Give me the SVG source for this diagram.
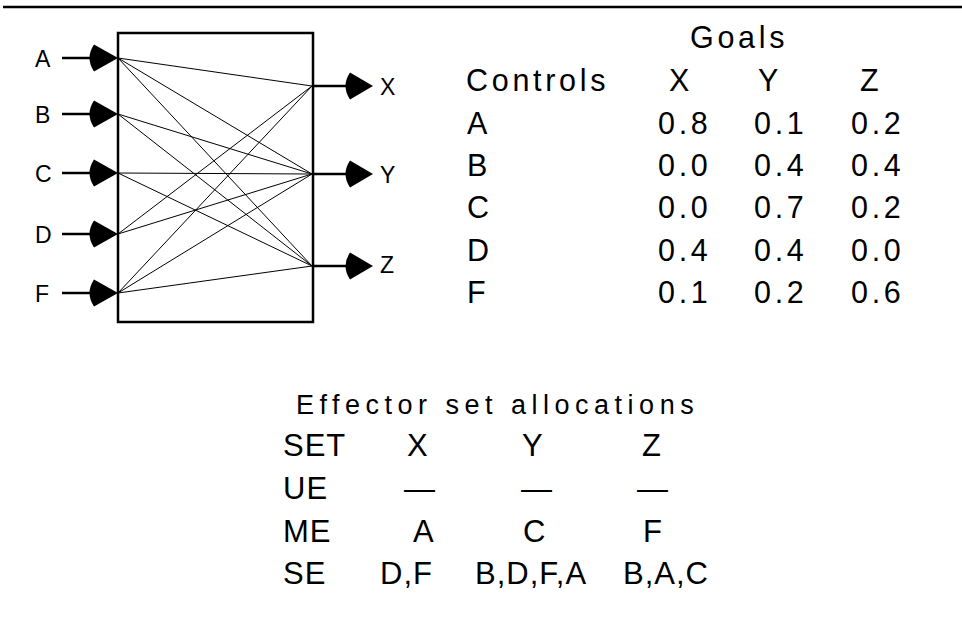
<svg xmlns="http://www.w3.org/2000/svg" width="962" height="635" viewBox="0 0 962 635">
<style>
  text { font-family: "Liberation Sans", Arial, sans-serif; fill: #000; }
  .io { font-size: 23px; }
  .tb { font-size: 30.5px; letter-spacing: 3.7px; }
  .hd { font-size: 27px; letter-spacing: 5.5px; }
  .al { font-size: 31px; letter-spacing: 1px; }
  .thick { stroke: #000; stroke-width: 2.5; fill: none; }
  .thin { stroke: #000; stroke-width: 1; fill: none; }
  .head { fill: #000; stroke: none; }
</style>
<rect width="962" height="635" fill="#fff"/>
<line x1="3" y1="7" x2="962" y2="7" stroke="#000" stroke-width="2.5"/>

<g id="box">
  <rect x="118" y="33" width="195" height="289" class="thick"/>
</g>

<g id="connectors">
  <line class="thin" x1="118" y1="58" x2="312" y2="86"/>
  <line class="thin" x1="118" y1="58" x2="312" y2="174"/>
  <line class="thin" x1="118" y1="58" x2="312" y2="266"/>
  <line class="thin" x1="118" y1="114" x2="312" y2="174"/>
  <line class="thin" x1="118" y1="114" x2="312" y2="266"/>
  <line class="thin" x1="118" y1="173" x2="312" y2="174"/>
  <line class="thin" x1="118" y1="173" x2="312" y2="266"/>
  <line class="thin" x1="118" y1="234" x2="312" y2="86"/>
  <line class="thin" x1="118" y1="234" x2="312" y2="174"/>
  <line class="thin" x1="118" y1="293" x2="312" y2="86"/>
  <line class="thin" x1="118" y1="293" x2="312" y2="174"/>
  <line class="thin" x1="118" y1="293" x2="312" y2="266"/>
  <line class="thick" x1="62" y1="58" x2="100" y2="58"/>
  <path class="head" d="M118,58 L94,44.5 Q85,58 94,71.5 Z"/>
  <line class="thick" x1="62" y1="114" x2="100" y2="114"/>
  <path class="head" d="M118,114 L94,100.5 Q85,114 94,127.5 Z"/>
  <line class="thick" x1="62" y1="173" x2="100" y2="173"/>
  <path class="head" d="M118,173 L94,159.5 Q85,173 94,186.5 Z"/>
  <line class="thick" x1="62" y1="234" x2="100" y2="234"/>
  <path class="head" d="M118,234 L94,220.5 Q85,234 94,247.5 Z"/>
  <line class="thick" x1="62" y1="293" x2="100" y2="293"/>
  <path class="head" d="M118,293 L94,279.5 Q85,293 94,306.5 Z"/>
  <line class="thick" x1="313" y1="86" x2="355" y2="86"/>
  <path class="head" d="M373,86 L350,72.5 Q341,86 350,99.5 Z"/>
  <line class="thick" x1="313" y1="174" x2="355" y2="174"/>
  <path class="head" d="M373,174 L350,160.5 Q341,174 350,187.5 Z"/>
  <line class="thick" x1="313" y1="266" x2="355" y2="266"/>
  <path class="head" d="M373,266 L350,252.5 Q341,266 350,279.5 Z"/>
</g>

<g id="inputs">
  <text class="io" x="35" y="66.5">A</text>
  <text class="io" x="35" y="122.5">B</text>
  <text class="io" x="35" y="181.5">C</text>
  <text class="io" x="35" y="242.5">D</text>
  <text class="io" x="35" y="301.5">F</text>
</g>
<g id="outputs">
  <text class="io" x="380" y="94.5">X</text>
  <text class="io" x="380" y="182.5">Y</text>
  <text class="io" x="380" y="273">Z</text>
</g>

<g id="goals-table">
  <text class="tb" x="690" y="48">Goals</text>
  <text class="tb" x="466" y="91">Controls</text>
  <text class="tb" x="669" y="91">X</text>
  <text class="tb" x="758" y="91">Y</text>
  <text class="tb" x="860" y="91">Z</text>

  <text class="tb" x="467" y="134">A</text>
  <text class="tb" x="658" y="134">0.8</text>
  <text class="tb" x="754" y="134">0.1</text>
  <text class="tb" x="851" y="134">0.2</text>

  <text class="tb" x="467" y="176">B</text>
  <text class="tb" x="658" y="176">0.0</text>
  <text class="tb" x="754" y="176">0.4</text>
  <text class="tb" x="851" y="176">0.4</text>

  <text class="tb" x="467" y="218">C</text>
  <text class="tb" x="658" y="218">0.0</text>
  <text class="tb" x="754" y="218">0.7</text>
  <text class="tb" x="851" y="218">0.2</text>

  <text class="tb" x="467" y="261">D</text>
  <text class="tb" x="658" y="261">0.4</text>
  <text class="tb" x="754" y="261">0.4</text>
  <text class="tb" x="851" y="261">0.0</text>

  <text class="tb" x="467" y="303">F</text>
  <text class="tb" x="658" y="303">0.1</text>
  <text class="tb" x="754" y="303">0.2</text>
  <text class="tb" x="851" y="303">0.6</text>
</g>

<g id="allocations">
  <text class="hd" x="296" y="414">Effector set allocations</text>
  <text class="al" x="283" y="456">SET</text>
  <text class="al" x="407" y="456">X</text>
  <text class="al" x="522" y="456">Y</text>
  <text class="al" x="642" y="456">Z</text>

  <text class="al" x="283" y="499">UE</text>
  <text class="al" x="404" y="499">—</text>
  <text class="al" x="521" y="499">—</text>
  <text class="al" x="637" y="499">—</text>

  <text class="al" x="283" y="542">ME</text>
  <text class="al" x="413" y="542">A</text>
  <text class="al" x="523" y="542">C</text>
  <text class="al" x="643" y="542">F</text>

  <text class="al" x="283" y="584">SE</text>
  <text class="al" x="380" y="584">D,F</text>
  <text class="al" x="475" y="584">B,D,F,A</text>
  <text class="al" x="623" y="584">B,A,C</text>
</g>
</svg>
